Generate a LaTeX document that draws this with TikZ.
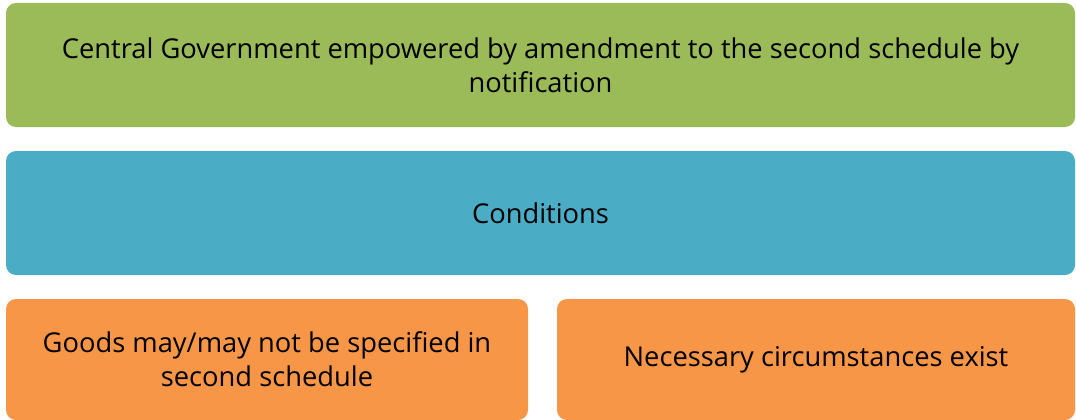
\documentclass[tikz,border=0pt]{standalone}
\usepackage{fontspec}
\setmainfont{Open Sans}
\usepackage{tikz}
\definecolor{boxgreen}{HTML}{9BBB59}
\definecolor{boxblue}{HTML}{4BACC6}
\definecolor{boxorange}{HTML}{F79646}
\tikzset{
    card/.style={rounded corners=10pt, inner sep=0pt, align=center,
        font=\fontsize{27.3}{34}\selectfont, text=black},
}
\begin{document}
\begin{tikzpicture}[x=1pt,y=-1pt]
    \useasboundingbox (0,0) rectangle (1076,420);
    % Top box
    \node[card, fill=boxgreen, minimum width=1069pt, minimum height=124pt] (power) at (540.5,65)
        {Central Government empowered by amendment to the second schedule by\\notification};
    % Middle box
    \node[card, fill=boxblue, minimum width=1069pt, minimum height=124pt] (cond) at (540.5,213) {Conditions};
    % Bottom boxes
    \node[card, fill=boxorange, minimum width=522pt, minimum height=121pt] (goods) at (267,359.5)
        {Goods may/may not be specified in\\second schedule};
    \node[card, fill=boxorange, minimum width=518pt, minimum height=121pt] (circ) at (816,359.5)
        {Necessary circumstances exist};
\end{tikzpicture}
\end{document}
